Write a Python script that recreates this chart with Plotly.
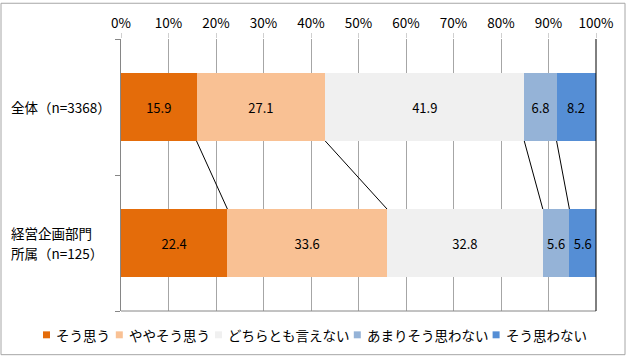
import plotly.graph_objects as go

categories = ["全体（n=3368）", "経営企画部門<br>所属（n=125）"]
series_names = ["そう思う", "ややそう思う", "どちらとも言えない", "あまりそう思わない", "そう思わない"]
values = [
    [15.9, 22.4],
    [27.1, 33.6],
    [41.9, 32.8],
    [6.8, 5.6],
    [8.2, 5.6],
]
colors = ["#E46C0A", "#F9C194", "#F0F0F0", "#95B3D7", "#558ED5"]
x_ticks = [0, 10, 20, 30, 40, 50, 60, 70, 80, 90, 100]

FONT = "Noto Sans CJK JP"
W, H = 627, 357
ML, MR, MT, MB = 121, 31, 37, 46
PW, PH = W - ML - MR, H - MT - MB
bar_w = 0.5
ypos = list(range(len(categories)))
y_range = [len(categories) - 0.5, -0.5]
px_per_unit = PH / len(categories)


def px_x(px):
    return (px - ML) / PW


def px_y(py):
    return 1 - (py - MT) / PH


fig = go.Figure()
for name, vals, col in zip(series_names, values, colors):
    fig.add_trace(go.Bar(
        y=ypos, x=vals, name=name, orientation="h",
        marker=dict(color=col, line=dict(width=0)),
        width=bar_w,
        text=[f"{v:.1f}" for v in vals], textposition="inside",
        insidetextanchor="middle",
        textfont=dict(color="black", size=13, family=FONT),
        hoverinfo="skip", showlegend=False,
    ))

shapes = []
annotations = []

# connector lines between cumulative boundaries
cum = [0.0 for _ in categories]
for s in range(len(values) - 1):
    cum = [c + values[s][i] for i, c in enumerate(cum)]
    for i in range(len(categories) - 1):
        shapes.append(dict(type="line", xref="x", yref="y",
                           x0=cum[i], y0=ypos[i] + bar_w / 2,
                           x1=cum[i + 1], y1=ypos[i + 1] - bar_w / 2,
                           line=dict(color="#000000", width=1)))

# outer border
shapes.append(dict(type="rect", xref="paper", yref="paper",
                   x0=px_x(1), x1=px_x(625), y0=px_y(355), y1=px_y(1),
                   line=dict(color="#A6A6A6", width=1), layer="below"))

# category labels (one annotation per line, 20px line spacing)
line_px = 20
for i, c in enumerate(categories):
    lines = c.split("<br>")
    n = len(lines)
    for k, ln in enumerate(lines):
        off = (k - (n - 1) / 2) * line_px / px_per_unit
        annotations.append(dict(x=px_x(9), xref="paper", y=ypos[i] + off, yref="y",
                                text=ln, showarrow=False, xanchor="left",
                                yanchor="middle", align="left",
                                font=dict(size=13.5, family=FONT, color="black")))

# legend (single row, bottom)
char_w = 13.2
x = 43
ly = 335
for name, col in zip(series_names, colors):
    shapes.append(dict(type="rect", xref="paper", yref="paper",
                       x0=px_x(x), x1=px_x(x + 7), y0=px_y(ly + 3.5), y1=px_y(ly - 3.5),
                       fillcolor=col, line=dict(width=0)))
    annotations.append(dict(x=px_x(x + 11), xref="paper", y=px_y(ly), yref="paper",
                            text=name, showarrow=False, xanchor="left", yanchor="middle",
                            font=dict(size=13.5, family=FONT, color="black")))
    x += 12 + len(name) * char_w + 8

# bottom and right borders of plot area
shapes.append(dict(type="line", xref="paper", yref="paper", x0=0, x1=1, y0=0, y1=0,
                   line=dict(color="#868686", width=1)))
shapes.append(dict(type="line", xref="paper", yref="paper", x0=1, x1=1, y0=0, y1=1,
                   line=dict(color="#000000", width=1)))

fig.update_layout(
    barmode="stack",
    width=W, height=H,
    margin=dict(l=ML, r=MR, t=MT, b=MB),
    paper_bgcolor="white", plot_bgcolor="white",
    font=dict(family=FONT, size=13, color="black"),
    showlegend=False,
    xaxis=dict(side="top", range=[0, 100], tickvals=x_ticks,
               ticktext=[f"{t}%" for t in x_ticks],
               showgrid=True, gridcolor="#A6A6A6", gridwidth=1,
               ticks="outside", ticklen=5, tickcolor="#D0D0D0",
               zeroline=False, showline=False,
               tickfont=dict(size=13.5, family=FONT)),
    yaxis=dict(range=y_range, tickvals=[-0.5, 0.5, 1.5], ticktext=["", "", ""],
               ticks="outside", ticklen=5, tickcolor="#868686",
               showgrid=False, zeroline=False,
               showline=True, linecolor="#868686", linewidth=1, mirror=False),
    shapes=shapes,
    annotations=annotations,
)

fig.write_html("out.html", config={"displayModeBar": False},
               post_script="document.body.style.margin='0';")
